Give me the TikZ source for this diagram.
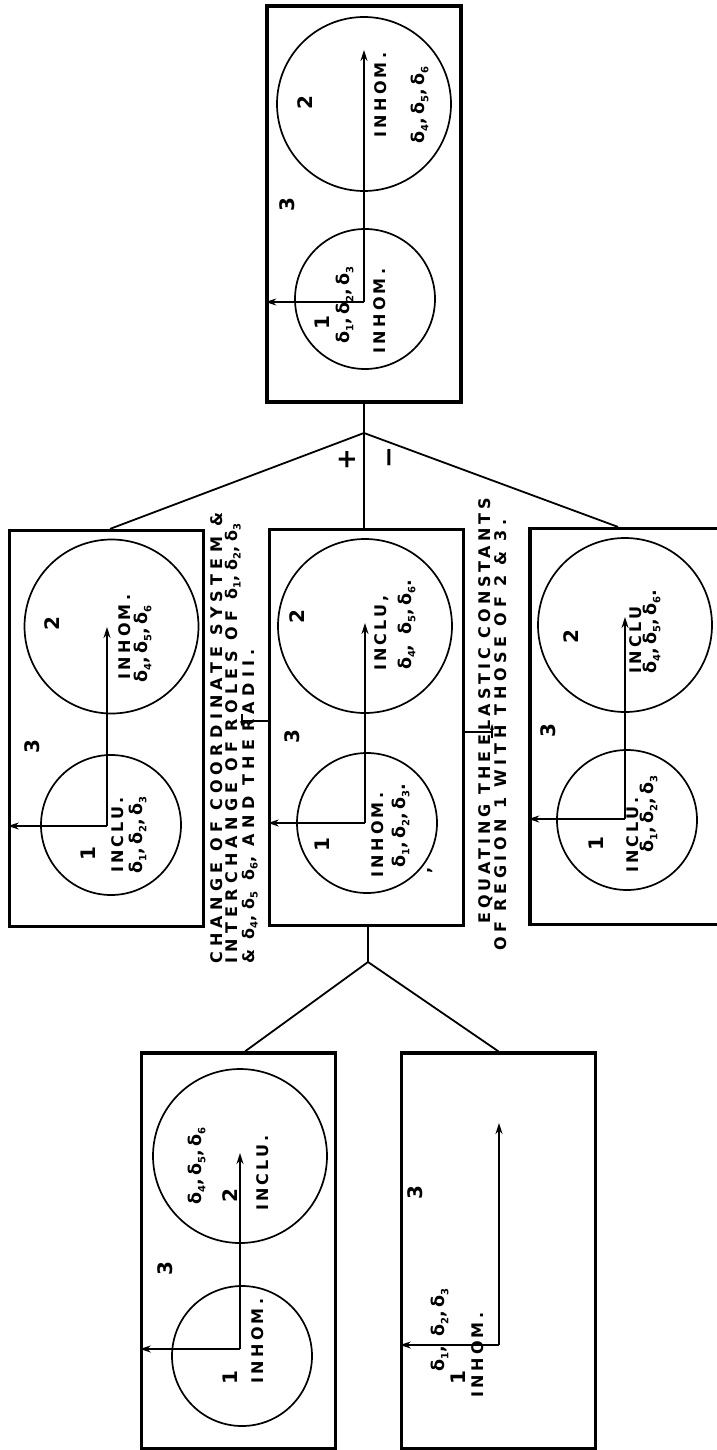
\documentclass[tikz,border=0pt]{standalone}
\usepackage{fontspec}
\setmainfont{DejaVu Sans}
\newfontfamily\lab{DejaVu Sans Bold}[LetterSpace=20]
\newfontfamily\labw{DejaVu Sans Bold}[LetterSpace=33]
\newfontfamily\labr{DejaVu Sans Bold}[LetterSpace=25]
\newfontfamily\labs{DejaVu Sans Bold}[LetterSpace=29]
\newfontfamily\labd{DejaVu Sans Bold}
\usetikzlibrary{arrows.meta,calc}
\newcommand\sx[1]{\raisebox{-0.35ex}{\fontsize{10}{10}\selectfont #1}}
\newcommand\dl[1]{δ\sx{#1}}
\begin{document}
\begin{tikzpicture}[x=1pt,y=-1pt,
 box/.style={draw,line width=3.2pt,minimum width=194pt,minimum height=396pt,inner sep=0pt},
 bigc/.style={draw,circle,line width=1.7pt,minimum size=174pt,inner sep=0pt},
 smc/.style={draw,circle,line width=1.7pt,minimum size=140pt,inner sep=0pt},
 lbl/.style={rotate=90,font=\lab\fontsize{16}{18}\selectfont,inner sep=0pt},
 dlb/.style={rotate=90,font=\lab\fontsize{17.5}{18}\selectfont,inner sep=0pt},
 dig/.style={rotate=90,font=\labd\fontsize{20}{20}\selectfont,inner sep=0pt},
 note/.style={rotate=90,font=\labw\fontsize{16}{18}\selectfont,inner sep=0pt,anchor=west},
 sgn/.style={rotate=90,font=\labd\fontsize{26}{26}\selectfont,inner sep=0pt},
 arr/.style={line width=1.6pt,-{Stealth[length=11pt,width=7pt]}},
 conn/.style={line width=1.8pt}]
\useasboundingbox (0,0) rectangle (716,1450);
% boxes
\node[box] (T) at (364,204) {};
\node[box] (L) at (106.5,728.5) {};
\node[box] (M) at (366.5,727.5) {};
\node[box] (R) at (627,726.5) {};
\node[box] (BL) at (238.5,1251) {};
\node[box] (BR) at (498.5,1251) {};
% circles
\node[bigc] (T2) at (364,104) {};  \node[smc] (T1) at (365,299) {};
\node[bigc] (L2) at (111.5,626.5) {}; \node[smc] (L1) at (111,825) {};
\node[bigc] (M2) at (365,626) {};  \node[smc] (M1) at (367,823) {};
\node[bigc] (R2) at (625,625) {};  \node[smc] (R1) at (627,820) {};
\node[bigc] (BL2) at (240,1156) {}; \node[smc] (BL1) at (242,1356) {};
% arrows
\coordinate (Tc) at (364,302); \coordinate (Tt) at (364,50);
\draw[arr] (Tc) -- (Tt); \draw[arr] (Tc) -- (Tc -| T.west);
\coordinate (Lc) at (107,826); \coordinate (Lt) at (107,627);
\draw[arr] (Lc) -- (Lt); \draw[arr] (Lc) -- (Lc -| L.west);
\coordinate (Mc) at (365,823); \coordinate (Mt) at (365,623);
\draw[arr] (Mc) -- (Mt); \draw[arr] (Mc) -- (Mc -| M.west);
\coordinate (Rc) at (625,819); \coordinate (Rt) at (625,617);
\draw[arr] (Rc) -- (Rt); \draw[arr] (Rc) -- (Rc -| R.west);
\coordinate (BLc) at (240,1349); \coordinate (BLt) at (240,1153);
\draw[arr] (BLc) -- (BLt); \draw[arr] (BLc) -- (BLc -| BL.west);
\coordinate (BRc) at (499,1345); \coordinate (BRt) at (499,1123);
\draw[arr] (BRc) -- (BRt); \draw[arr] (BRc) -- (BRc -| BR.west);
% top box labels
\node[dig] (t2) at (305,103) {2};
\node[dig] (t3) at (287,205) {3};
\node[dig] (t1) at (322,323) {1};
\node[dlb] (td1) at (345,305) {\dl1,\dl2,\dl3};
\node[lbl] (ti1) at (380,311) {INHOM.};
\node[lbl] (ti2) at (381,95) {INHOM.};
\node[dlb] (td2) at (420,105) {\dl4,\dl5,\dl6};
% left box labels
\node[dig] (l2) at (52,624) {2};
\node[lbl] (li2) at (125,637) {INHOM.};
\node[dlb] (ld2) at (143,644) {\dl4,\dl5,\dl6};
\node[dig] (l3) at (32,747) {3};
\node[dig] (l1) at (88,854) {1};
\node[lbl] (li1) at (118,835) {INCLU.};
\node[dlb] (ld1) at (138,835) {\dl1,\dl2,\dl3};
% middle box labels
\node[dig] (m2) at (297,617) {2};
\node[lbl] (mi2) at (382,633) {INCLU,};
\node[dlb] (md2) at (407,625) {\dl4, \dl5,\dl6.};
\node[dig] (m3) at (292,737) {3};
\node[dig] (m1) at (322,845) {1};
\node[lbl] (mi1) at (378,835) {INHOM.};
\node[dlb] (md1) at (401,826) {\dl1,\dl2,\dl3.};
\node[lbl] (mc) at (430,870) {,};
% right box labels
\node[dig] (r2) at (571,637) {2};
\node[lbl] (ri2) at (636,640) {INCLU};
\node[dlb] (rd2) at (652,632) {\dl4,\dl5,\dl6.};
\node[dig] (r3) at (548,731) {3};
\node[dig] (r1) at (596,844) {1};
\node[lbl] (ri1) at (633,835) {INCLU.};
\node[dlb] (rd1) at (649,814) {\dl1,\dl2,\dl3};
% bottom-left labels
\node[dig] (bl3) at (165,1269) {3};
\node[dig] (bl1) at (230,1378) {1};
\node[lbl] (bli1) at (258,1341) {INHOM.};
\node[dig] (bl2) at (230,1196) {2};
\node[dlb] (bld2) at (197,1166) {\dl4,\dl5,\dl6};
\node[lbl] (bli2) at (263,1173) {INCLU.};
% bottom-right labels
\node[dig] (br3) at (415,1193) {3};
\node[dlb] (brd1) at (440,1330) {\dl1, \dl2,\dl3};
\node[dig] (br1) at (458,1378) {1};
\node[lbl] (bri1) at (478,1355) {INHOM.};
% connectors
\coordinate (j1) at (364,433);
\draw[conn] (T.south) -- (j1) -- (j1 |- M.north);
\draw[conn] (j1) -- ($(L.north)+(3.5,0)$);
\draw[conn] (j1) -- ($(R.north)+(-9,0)$);
\node[sgn] (plus) at (347,460) {+};
\node[sgn] (minus) at (393,458) {−};
\coordinate (j2) at (368,962);
\draw[conn] (j2 |- M.south) -- (j2);
\draw[conn] (j2) -- ($(BL.north)+(6.5,0)$);
\draw[conn] (j2) -- (BR.north);
% notes
\node[note] (n1) at (217,964) {CHANGE OF COORDINATE SYSTEM \&};
\node[note] (n2) at (233,964) {INTERCHANGE OF ROLES OF \dl1,\dl2,\dl3};
\node[note] (n3) at (250,964) {\& \dl4,\dl5 \dl6, AND THE\hspace{8pt}RADII.};
\node[note,font=\labr\fontsize{16}{18}\selectfont] (n4) at (486,924) {EQUATING THE\hspace{6pt}ELASTIC CONSTANTS};
\node[note,font=\labs\fontsize{16}{18}\selectfont] (n5) at (501,951) {OF REGION 1 WITH THOSE OF 2 \& 3.};
\coordinate (k1) at (242,721);
\draw[conn] (k1 -| M.west) -- (k1);
\draw[line width=1.2pt,-{Stealth[length=6pt,width=4pt]}] (242,714) -- (242,727);
\coordinate (k2) at (492,732);
\draw[conn] (k2 -| M.east) -- (k2);
\draw[line width=1.2pt,-{Stealth[length=6pt,width=4pt]}] (492,738) -- (492,724);
\end{tikzpicture}
\end{document}
